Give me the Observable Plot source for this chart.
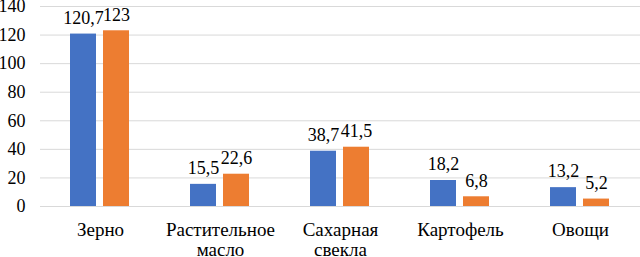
<!DOCTYPE html>
<html>
<head>
<meta charset="utf-8">
<script src="https://cdn.jsdelivr.net/npm/d3@7"></script>
<script src="https://cdn.jsdelivr.net/npm/@observablehq/plot@0.6"></script>
<style>
  html, body { margin: 0; padding: 0; background: #fff; }
  svg text { font-family: "Liberation Serif", "Times New Roman", serif !important; }
</style>
</head>
<body>
<div id="chart"></div>
<script>
const categories = ["Зерно", "Растительное\nмасло", "Сахарная\nсвекла", "Картофель", "Овощи"];
const seriesNames = ["Ряд 1", "Ряд 2"];
const series1 = [120.7, 15.5, 38.7, 18.2, 13.2];
const series2 = [123, 22.6, 41.5, 6.8, 5.2];
const yTicks = [0, 20, 40, 60, 80, 100, 120, 140];
const colors = ["#4472C4", "#ED7D31"];
const serif = "Liberation Serif";

const data = [];
categories.forEach((c, i) => {
  data.push({cat: c, series: seriesNames[0], value: series1[i]});
  data.push({cat: c, series: seriesNames[1], value: series2[i]});
});
const fmt = v => String(v).replace(".", ",");

const chart = Plot.plot({
  width: 640,
  height: 257,
  marginLeft: 40,
  marginRight: 0,
  marginTop: 6,
  marginBottom: 51,
  style: {fontFamily: serif, fontSize: "18px", background: "#fff"},
  fx: {domain: categories, paddingInner: 0, paddingOuter: 0, label: null, axis: null},
  x: {domain: seriesNames, paddingInner: 0.206, paddingOuter: 0.868, axis: null},
  y: {domain: [0, 140], label: null, axis: null},
  color: {domain: seriesNames, range: colors},
  marks: [
    Plot.gridY(yTicks, {stroke: "#d9d9d9", strokeOpacity: 1, strokeWidth: 1}),
    Plot.axisY(yTicks, {tickSize: 0, tickPadding: 15, label: null, fill: "#000", fontSize: 18, fontFamily: serif}),
    Plot.axisFx({anchor: "bottom", tickSize: 0, tickPadding: 15.5, lineHeight: 1.06, label: null, fill: "#000", fontSize: 19, fontFamily: serif}),
    Plot.barY(data, {fx: "cat", x: "series", y: "value", fill: "series"}),
    Plot.text(data, {fx: "cat", x: "series", y: "value", text: d => fmt(d.value), lineAnchor: "middle", dy: -16, fill: "#000", fontSize: 18, fontFamily: serif})
  ]
});
chart.setAttribute("font-family", serif);
chart.querySelectorAll("g, text").forEach(el => {
  if (el.hasAttribute("font-family")) el.setAttribute("font-family", serif);
});
chart.querySelectorAll("text").forEach(el => el.setAttribute("font-family", serif));
document.getElementById("chart").appendChild(chart);
</script>
</body>
</html>
